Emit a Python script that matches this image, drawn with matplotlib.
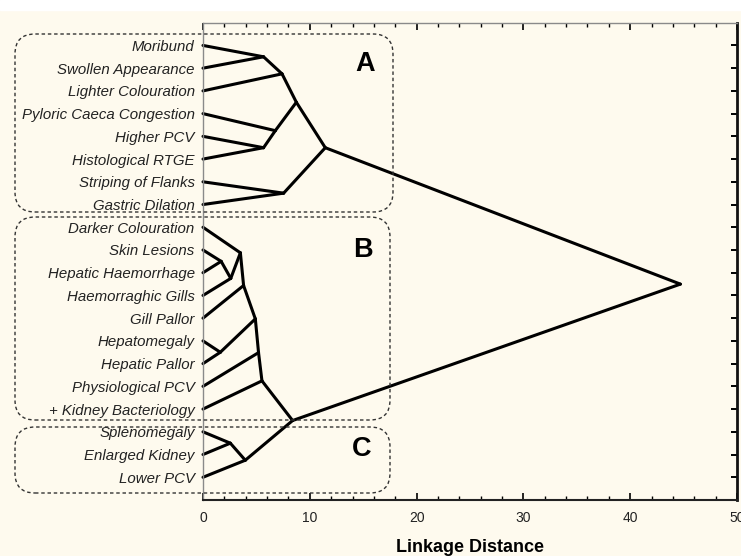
import matplotlib
matplotlib.use('Agg')
import matplotlib.pyplot as plt
from matplotlib.patches import FancyBboxPatch, Rectangle

plt.rcParams['font.family'] = ['Liberation Sans', 'DejaVu Sans']

# variables (leaves, top to bottom)
labels = ['Moribund', 'Swollen Appearance', 'Lighter Colouration',
          'Pyloric Caeca Congestion', 'Higher PCV', 'Histological RTGE',
          'Striping of Flanks', 'Gastric Dilation', 'Darker Colouration',
          'Skin Lesions', 'Hepatic Haemorrhage', 'Haemorraghic Gills',
          'Gill Pallor', 'Hepatomegaly', 'Hepatic Pallor', 'Physiological PCV',
          '+ Kidney Bacteriology', 'Splenomegaly', 'Enlarged Kidney', 'Lower PCV']

# merges: node ids 0..19 are leaves, each merge creates node 20, 21, ...
merge_left = [0, 20, 4, 3, 21, 6, 24, 9, 27, 8, 29, 13, 30, 32, 33, 17, 35, 34, 26]
merge_right = [1, 2, 5, 22, 23, 7, 25, 10, 11, 28, 12, 14, 31, 15, 16, 18, 19, 36, 37]
merge_dist = [5.67, 7.4, 5.67, 6.77, 8.74, 7.55, 11.45, 1.7, 2.6, 3.5, 3.8, 1.62,
              4.9, 5.2, 5.52, 2.56, 3.96, 8.39, 44.7]

group_names = ['A', 'B', 'C']

cream = '#fefaee'
W, H = 741, 556

fig = plt.figure(figsize=(W / 100, H / 100), dpi=100, facecolor=cream)
fig.add_artist(Rectangle((0, 1 - 10 / H), 1, 10 / H, transform=fig.transFigure,
                         color='white', zorder=-1))
ax = fig.add_axes([203 / W, 1 - 500 / H, (737 - 203) / W, (500 - 22.7) / H])
ax.set_facecolor(cream)

# slanted dendrogram: straight line from each child to its parent node
pos = {i: (0.0, i + 1.0) for i in range(len(labels))}
for k, (l, r, d) in enumerate(zip(merge_left, merge_right, merge_dist)):
    y = (pos[l][1] + pos[r][1]) / 2
    pos[len(labels) + k] = (d, y)
    for c in (l, r):
        ax.plot([pos[c][0], d], [pos[c][1], y], color='black', lw=2.2,
                solid_capstyle='round', clip_on=False)

ax.set_xlim(0, 50)
ax.set_ylim(len(labels) + 1, 0)
ax.set_xticks(range(0, 51, 10))
ax.set_xticks(range(0, 51, 2), minor=True)
ax.set_yticks(range(1, len(labels) + 1))
ax.set_yticklabels(labels, fontstyle='italic', fontsize=10.8, color='#222222')
ax.tick_params(axis='y', left=False, right=True, labelleft=True, direction='in',
               length=4, width=1.4, pad=6)
ax.tick_params(axis='x', which='both', top=True, bottom=True, direction='in',
               labelsize=10, labelcolor='#222222', pad=8)
ax.tick_params(axis='x', which='major', length=5, width=1.2)
ax.tick_params(axis='x', which='minor', length=3, width=1)
for side, col, lw in [('left', '#8a8a8a', 1), ('top', '#8a8a8a', 1),
                      ('bottom', '#222222', 1.5), ('right', '#111111', 2)]:
    ax.spines[side].set_color(col)
    ax.spines[side].set_linewidth(lw)
ax.set_xlabel('Linkage Distance', fontsize=13, fontweight='bold', labelpad=10)

# dashed group boxes (pixel extents, origin top-left)
boxes = [(15, 34, 393, 212), (15, 217, 390, 420), (15, 427, 390, 493)]
letter_pos = [(365, 64), (363, 250), (362, 449)]
for (x0, y0, x1, y1), name, (tx, ty) in zip(boxes, group_names, letter_pos):
    fig.add_artist(FancyBboxPatch((x0 / 100, (H - y1) / 100), (x1 - x0) / 100,
                                  (y1 - y0) / 100,
                                  boxstyle='round,pad=0,rounding_size=0.2',
                                  transform=fig.dpi_scale_trans, fill=False,
                                  ls=(0, (2.5, 2)), lw=1, ec='#333333'))
    fig.text(tx / W, 1 - ty / H, name, fontsize=19.5, fontweight='bold',
             ha='center', va='center')

fig.savefig('out.png', dpi=100, facecolor=cream)
